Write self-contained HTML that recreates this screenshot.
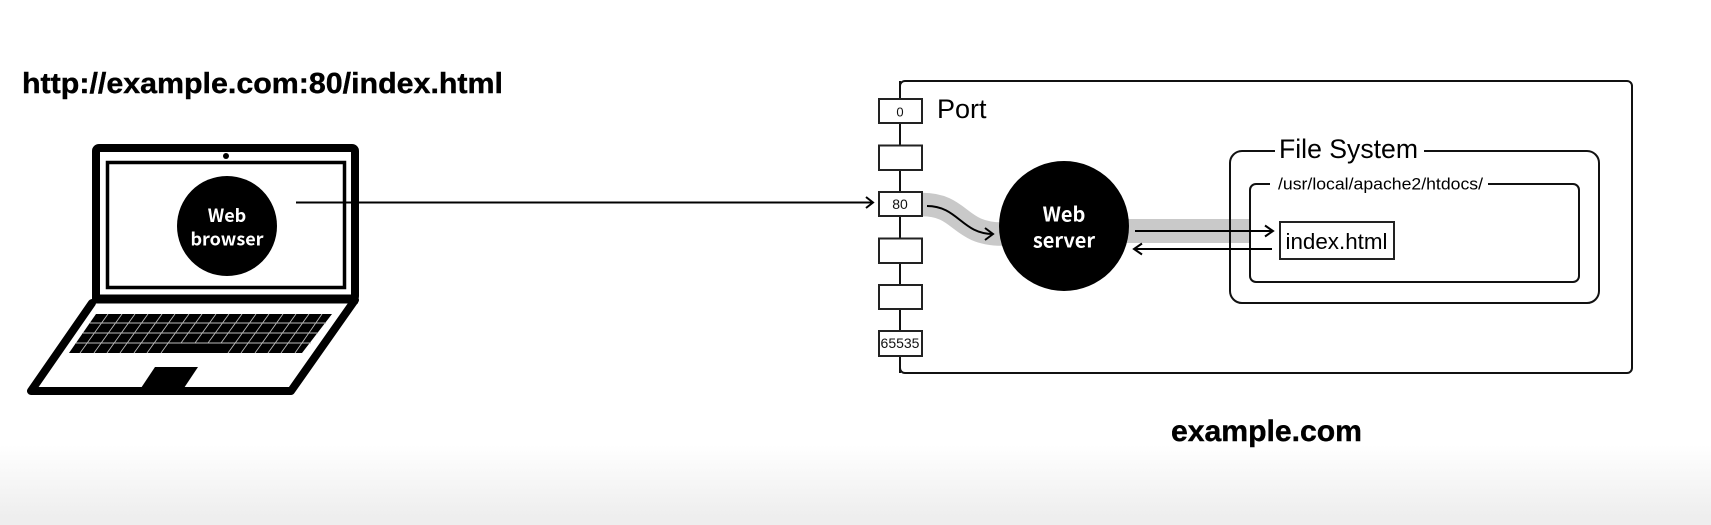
<!DOCTYPE html>
<html>
<head>
<meta charset="utf-8">
<style>
html,body{margin:0;padding:0;width:1711px;height:525px;overflow:hidden;background:#fff}
svg{display:block;position:absolute;left:0;top:0;filter:blur(0.35px)}
.s{font-family:"Liberation Sans",sans-serif}
.j{font-family:"Noto Sans CJK JP","Liberation Sans",sans-serif;font-weight:700;fill:#fff;text-anchor:middle}
</style>
</head>
<body>
<svg width="1711" height="525" viewBox="0 0 1711 525" xmlns="http://www.w3.org/2000/svg">
<defs>
<linearGradient id="bg" x1="0" y1="0" x2="0" y2="1">
<stop offset="0" stop-color="#fff"/>
<stop offset="0.9" stop-color="#eee"/>
<stop offset="1" stop-color="#eee"/>
</linearGradient>
</defs>
<rect x="0" y="445" width="1711" height="80" fill="url(#bg)"/>

<text class="s" x="22" y="93" font-size="29" font-weight="700" fill="#000" stroke="#000" stroke-width="0.4" textLength="481" lengthAdjust="spacingAndGlyphs">http://example.com:80/index.html</text>

<!-- laptop -->
<rect x="96" y="148" width="259" height="151" rx="3" fill="#fff" stroke="#000" stroke-width="8"/>
<rect x="107.500" y="162.500" width="237" height="125" fill="none" stroke="#000" stroke-width="3.500"/>
<circle cx="226" cy="156" r="3" fill="#000"/>
<path d="M92,303 L31,391 L291,391 L355,300" fill="#fff" stroke="#000" stroke-width="8" stroke-linejoin="round" stroke-linecap="round"/>
<path d="M92,299 H358" stroke="#000" stroke-width="9" fill="none"/>
<polygon points="96,314 332,314 302,353 69,353" fill="#000"/>
<g stroke="#bbb" stroke-width="0.900" fill="none">
<path d="M90,323 H326 M83,333 H318 M76,343 H311"/>
<path d="M108,314 L80,353 M122,314 L94,353 M135,314 L107,353 M148,314 L120,353 M162,314 L134,353 M175,314 L147,353 M189,314 L161,353 M202,314 L181,343 M216,314 L195,343 M229,314 L208,343 M242,314 L221,343 M256,314 L228,353 M269,314 L241,353 M283,314 L255,353 M296,314 L268,353 M309,314 L281,353 M322,314 L295,353"/>
</g>
<polygon points="155,367 198,367 184,388 141,388" fill="#000"/>
<circle cx="227" cy="226" r="50" fill="#000"/>
<text class="j" x="227" y="222" font-size="18">Web</text>
<text class="j" x="227" y="245.500" font-size="18">browser</text>

<!-- main arrow -->
<path d="M296,202.500 H873" stroke="#000" stroke-width="2" fill="none"/>
<path d="M866,197 L873,202.500 L866,208" stroke="#000" stroke-width="2" fill="none"/>

<!-- server box -->
<rect x="900" y="81" width="732" height="292" rx="5" fill="#fff" stroke="#111" stroke-width="2"/>
<path d="M900,81 V373" stroke="#111" stroke-width="2"/>

<!-- gray channels -->
<path d="M922,204.500 C962,204.500 958,234 1002,234" stroke="#c9c9c9" stroke-width="23.500" fill="none"/>
<rect x="1125" y="219" width="125" height="24" fill="#c9c9c9"/>

<!-- port boxes -->
<g fill="#fff" stroke="#222" stroke-width="2">
<rect x="879" y="99" width="43" height="24"/>
<rect x="879" y="145.500" width="43" height="24.500"/>
<rect x="879" y="192" width="43" height="24"/>
<rect x="879" y="238.500" width="43" height="24.500"/>
<rect x="879" y="285" width="43" height="24"/>
<rect x="879" y="331" width="43" height="25"/>
</g>
<g class="s" font-size="14" fill="#111" text-anchor="middle">
<text x="900" y="116.500" font-size="13">0</text>
<text x="900" y="209">80</text>
<text x="900" y="348">65535</text>
</g>
<text class="s" x="937" y="118" font-size="27" fill="#000">Port</text>

<!-- curved arrow -->
<path d="M927,206 C958,206 962,234 993,234" stroke="#000" stroke-width="2" fill="none"/>
<path d="M985,228 L993,234 L985,240" stroke="#000" stroke-width="2" fill="none"/>

<!-- web server -->
<circle cx="1064" cy="226" r="65" fill="#000"/>
<text class="j" x="1064" y="221.500" font-size="20">Web</text>
<text class="j" x="1064" y="247.500" font-size="20">server</text>

<!-- file system -->
<rect x="1230" y="151" width="369" height="152" rx="12" fill="none" stroke="#111" stroke-width="2"/>
<rect x="1275" y="145" width="149" height="12" fill="#fff"/>
<text class="s" x="1279" y="158" font-size="26.500" fill="#000" textLength="139" lengthAdjust="spacingAndGlyphs">File System</text>
<rect x="1250" y="184" width="329" height="98" rx="6" fill="none" stroke="#111" stroke-width="2"/>
<rect x="1270" y="179" width="218" height="10" fill="#fff"/>
<text class="s" x="1278" y="189.500" font-size="16.500" fill="#000" textLength="205" lengthAdjust="spacingAndGlyphs">/usr/local/apache2/htdocs/</text>
<rect x="1280" y="222" width="114" height="37" fill="#fff" stroke="#222" stroke-width="2"/>
<text class="s" x="1285.500" y="249" font-size="22.500" fill="#000" textLength="102" lengthAdjust="spacingAndGlyphs">index.html</text>

<!-- arrows -->
<path d="M1135,231 H1272" stroke="#000" stroke-width="2" fill="none"/>
<path d="M1265,225.500 L1273,231 L1265,236.500" stroke="#000" stroke-width="2" fill="none"/>
<path d="M1272,249 H1134" stroke="#000" stroke-width="2" fill="none"/>
<path d="M1142,243.500 L1134,249 L1142,254.500" stroke="#000" stroke-width="2" fill="none"/>

<text class="s" x="1171" y="441" font-size="29.500" font-weight="700" fill="#000" stroke="#000" stroke-width="0.4" textLength="191" lengthAdjust="spacingAndGlyphs">example.com</text>
</svg>
</body>
</html>
